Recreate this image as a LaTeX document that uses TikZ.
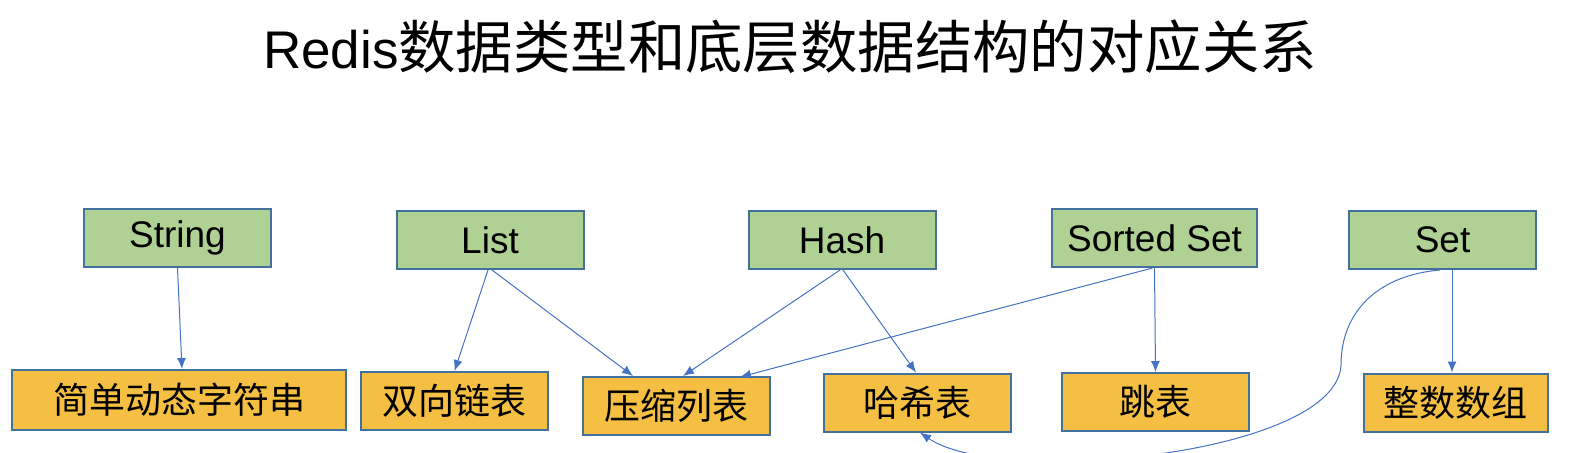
\documentclass[tikz,border=0pt]{standalone}
\usepackage{fontspec}
\setmainfont{Liberation Sans}
\newfontfamily\cjk{Noto Sans CJK SC}
\usepackage{tikz}
\usetikzlibrary{arrows.meta,positioning}
\usepackage{xcolor}
\definecolor{boxline}{HTML}{41719C}
\definecolor{arrowblue}{HTML}{4472C4}
\definecolor{typegreen}{HTML}{B0D194}
\definecolor{structgold}{HTML}{F4BF42}

\begin{document}
\begin{tikzpicture}[x=0.5pt,y=-0.5pt,
    typebox/.style={draw=boxline, line width=1pt, fill=typegreen, minimum width=93.5pt, minimum height=29pt, inner sep=0pt, font=\fontsize{18.5}{20}\selectfont},
    structbox/.style={draw=boxline, line width=1pt, fill=structgold, minimum width=93.5pt, minimum height=29pt, inner sep=0pt, font=\fontsize{18}{20}\selectfont\cjk},
    link/.style={draw=arrowblue, line width=0.5pt, -{Latex[length=5.5pt,width=4.5pt]}}]
      \useasboundingbox (0,0) rectangle (1572,452);

      \node (title) at (790,47) {\fontsize{26.5}{30}\selectfont Redis{\fontsize{28.7}{30}\selectfont\cjk 数据类型和底层数据结构的对应关系}};

      % data types
      \node[typebox] (string) at (177.5,238) {String};
      \node[typebox] (list) at (490,240) {List};
      \node[typebox] (hash) at (842,240) {Hash};
      \node[typebox, minimum width=102.5pt] (zset) at (1154.5,238) {Sorted Set};
      \node[typebox] (set) at (1442.5,240) {Set};

      % structures
      \node[structbox, minimum width=167pt, minimum height=30pt] (sds) at (179,400) {简单动态字符串};
      \node[structbox] (dlist) at (454.5,401) {双向链表};
      \node[structbox] (ziplist) at (676.5,406) {压缩列表};
      \node[structbox] (hashtab) at (917.5,402.5) {哈希表};
      \node[structbox] (skiplist) at (1155.5,402) {跳表};
      \node[structbox, minimum width=92pt] (intset) at (1455.5,402.5) {整数数组};

      \draw[link] (string.south) -- ([xshift=1.5pt]sds.north);
      \draw[link] ([xshift=-1pt]list.south) -- (dlist.north);
      \draw[link] ([xshift=1pt]list.south) -- ([xshift=-21.75pt]ziplist.north);
      \draw[link] ([xshift=-1pt]hash.south) -- ([xshift=3.25pt]ziplist.north);
      \draw[link] ([xshift=0.5pt]hash.south) -- ([xshift=-0.75pt]hashtab.north);
      \draw[link] ([xshift=-1pt]zset.south) -- ([xshift=31.75pt,yshift=-0.5pt]ziplist.north);
      \draw[link] (zset.south) -- (skiplist.north);
      \draw[link] ([xshift=4.75pt]set.south) -- ([xshift=-1.75pt]intset.north);
      \draw[link] ([xshift=-1.25pt]set.south) .. controls +(-60,5) and +(0,-55) .. (1341,365)
            .. controls +(-4,90) and +(80,55) .. ([xshift=1.25pt]hashtab.south);
    \end{tikzpicture}
\end{document}
